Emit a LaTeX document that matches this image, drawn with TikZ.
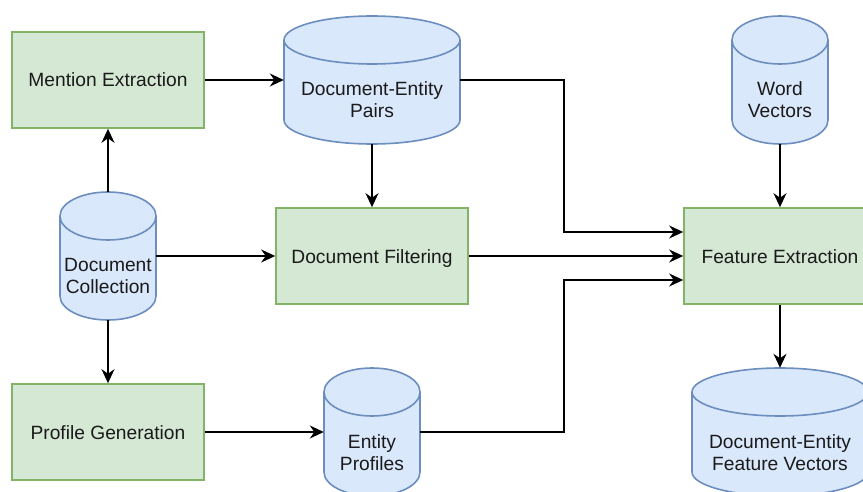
\documentclass[tikz,border=0pt]{standalone}
\usepackage{fontspec}
\setmainfont{Liberation Sans}
\usetikzlibrary{arrows.meta}

\definecolor{procfill}{HTML}{D5E8D4}
\definecolor{procline}{HTML}{82B366}
\definecolor{storefill}{HTML}{DAE8FC}
\definecolor{storeline}{HTML}{6C8EBF}
\definecolor{ink}{HTML}{1A1A1A}

\newcommand\diafont{\fontsize{19.2}{22}\selectfont}

\tikzset{
  procbox/.style={rectangle, draw=procline, fill=procfill, line width=1.6pt,
    minimum width=192pt, minimum height=96pt, inner sep=0pt,
    text height=14pt, text depth=0pt, text=ink, font=\diafont},
  storearea/.style={rectangle, inner sep=0pt, minimum height=128pt},
  storelabel/.style={align=center, anchor=base, inner sep=0pt, text=ink, font=\diafont},
  store/.style={draw=storeline, fill=storefill, line width=1.6pt},
  flow/.style={draw=black, line width=1.6pt,
    -{Stealth[length=14pt, width=13pt, inset=4.5pt]}},
}

% data store drawn as a cylinder: name, centre x, centre y, width, label
\newcommand\storecyl[5]{%
  \pgfmathsetmacro\cylL{#2-#4/2}\pgfmathsetmacro\cylR{#2+#4/2}%
  \pgfmathsetmacro\cylK{#4/2*0.5523}%
  \pgfmathsetmacro\cylT{#3-40}\pgfmathsetmacro\cylB{#3+40}%
  \node[storearea, minimum width=#4pt] (#1) at (#2,#3) {};
  \path[store] (\cylL,\cylT)
      .. controls (\cylL,\cylT-13.25) and (#2-\cylK,\cylT-24) .. (#2,\cylT-24)
      .. controls (#2+\cylK,\cylT-24) and (\cylR,\cylT-13.25) .. (\cylR,\cylT)
      -- (\cylR,\cylB)
      .. controls (\cylR,\cylB+13.25) and (#2+\cylK,\cylB+24) .. (#2,\cylB+24)
      .. controls (#2-\cylK,\cylB+24) and (\cylL,\cylB+13.25) .. (\cylL,\cylB)
      -- cycle;
  \draw[storeline, line width=1.6pt] (\cylL,\cylT)
      .. controls (\cylL,\cylT+13.25) and (#2-\cylK,\cylT+24) .. (#2,\cylT+24)
      .. controls (#2+\cylK,\cylT+24) and (\cylR,\cylT+13.25) .. (\cylR,\cylT);
  % the base anchor of a two-line label sits on its second line
  \node[storelabel] (#1-text) at (#2,#3+38) {#5};
}

\begin{document}
\begin{tikzpicture}[x=1pt, y=-1pt]
  \useasboundingbox (0,0) rectangle (863,492);
  \clip (0,0) rectangle (863,492);

  % processing steps
  \node[procbox] (ment) at (108,80)  {Mention Extraction};
  \node[procbox] (filt) at (372,256) {Document Filtering};
  \node[procbox] (prof) at (108,432) {Profile Generation};
  \node[procbox] (feat) at (780,256) {Feature Extraction};

  % data stores
  \storecyl{dep}{372}{80}{176}{Document-Entity\\Pairs}
  \storecyl{wv}{780}{80}{96}{Word\\Vectors}
  \storecyl{dcol}{108}{256}{96}{Document\\Collection}
  \storecyl{ep}{372}{432}{96}{Entity\\Profiles}
  \storecyl{fv}{780}{432}{176}{Document-Entity\\Feature Vectors}

  % bends of the two routed connectors
  \coordinate (bendA) at (564,232);
  \coordinate (bendB) at (564,280);

  % data flow
  \draw[flow] (ment.east) -- (dep.west);
  \draw[flow] (dcol.north) -- (ment.south);
  \draw[flow] (dcol.east) -- (filt.west);
  \draw[flow] (dcol.south) -- (prof.north);
  \draw[flow] (dep.south) -- (filt.north);
  \draw[flow] (prof.east) -- (ep.west);
  \draw[flow] (dep.east) -| (bendA) -- (feat.west |- bendA);
  \draw[flow] (filt.east) -- (feat.west);
  \draw[flow] (ep.east) -| (bendB) -- (feat.west |- bendB);
  \draw[flow] (wv.south) -- (feat.north);
  \draw[flow] (feat.south) -- (fv.north);
\end{tikzpicture}
\end{document}
